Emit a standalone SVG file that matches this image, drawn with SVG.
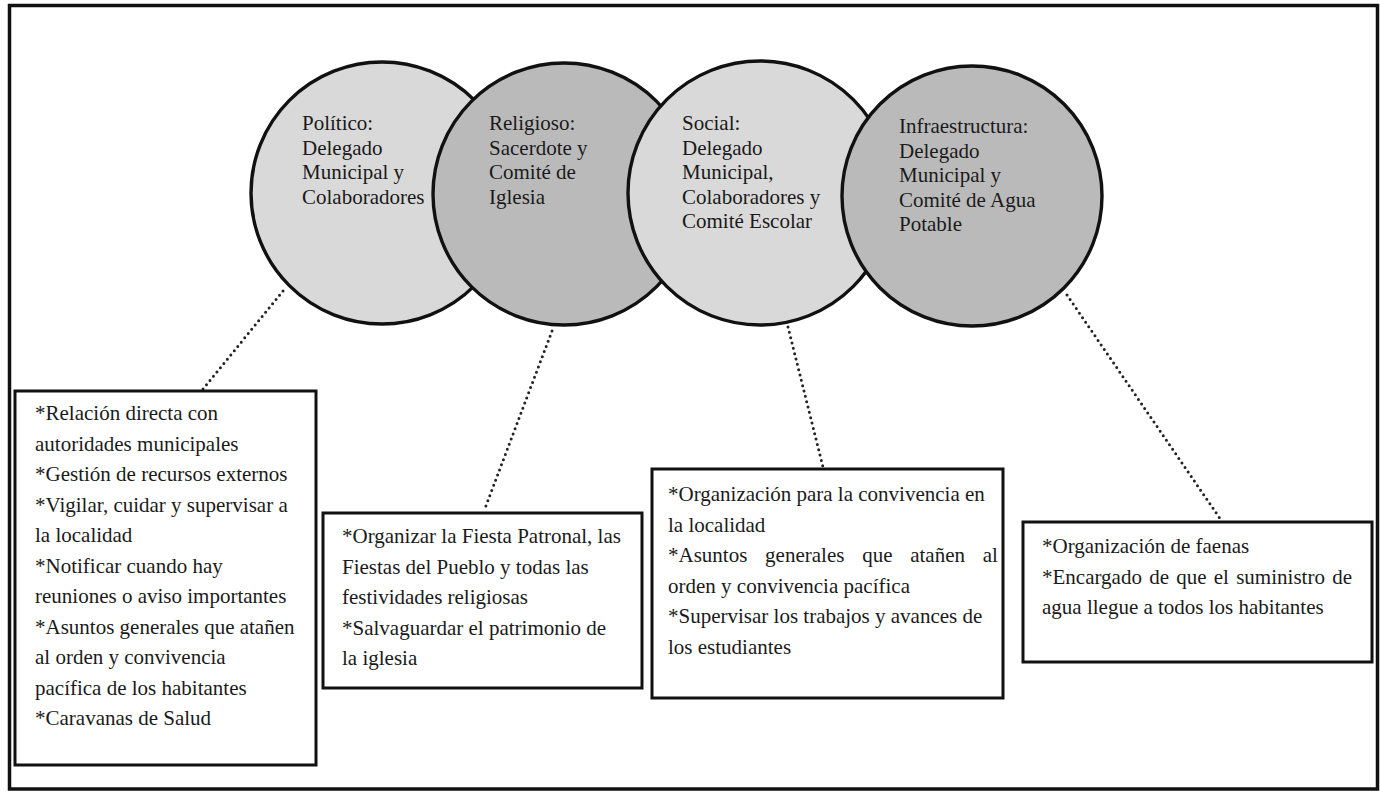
<svg xmlns="http://www.w3.org/2000/svg" width="1380" height="792" viewBox="0 0 1380 792">
<style>
text{font-family:"Liberation Serif","Times New Roman",serif;font-size:21px;fill:#1a1a1a}
.circ{stroke:#111;stroke-width:3.4}
.light{fill:#d9d9d9}
.dark{fill:#bababa}
.box{fill:#fff;stroke:#111;stroke-width:3}
.dot{fill:none;stroke:#222;stroke-width:3;stroke-linecap:round;stroke-dasharray:0 5.5}
</style>
<rect x="0" y="0" width="1380" height="792" fill="#fff"/>
<rect x="9.5" y="5.5" width="1368" height="783.5" fill="none" stroke="#111" stroke-width="3.5"/>
<g id="connectors">
<line class="dot" x1="283" y1="291" x2="203" y2="389"/>
<line class="dot" x1="552" y1="331" x2="484" y2="511"/>
<line class="dot" x1="788" y1="327" x2="823" y2="467"/>
<line class="dot" x1="1067" y1="295" x2="1221" y2="520"/>
</g>
<g id="politico">
<circle class="circ light" cx="382" cy="193" r="131"/>
<text x="302" y="130">Político:</text>
<text x="302" y="154.5">Delegado</text>
<text x="302" y="179">Municipal y</text>
<text x="302" y="203.5">Colaboradores</text>
</g>
<g id="religioso">
<circle class="circ dark" cx="564" cy="194" r="131"/>
<text x="489" y="130">Religioso:</text>
<text x="489" y="154.5">Sacerdote y</text>
<text x="489" y="179">Comité de</text>
<text x="489" y="203.5">Iglesia</text>
</g>
<g id="social">
<circle class="circ light" cx="760" cy="193" r="132"/>
<text x="682" y="130">Social:</text>
<text x="682" y="154.5">Delegado</text>
<text x="682" y="179">Municipal,</text>
<text x="682" y="203.5">Colaboradores y</text>
<text x="682" y="228">Comité Escolar</text>
</g>
<g id="infraestructura">
<circle class="circ dark" cx="972" cy="196" r="130"/>
<text x="899" y="133">Infraestructura:</text>
<text x="899" y="157.5">Delegado</text>
<text x="899" y="182">Municipal y</text>
<text x="899" y="206.5">Comité de Agua</text>
<text x="899" y="231">Potable</text>
</g>
<g id="box-politico">
<rect class="box" x="15" y="391" width="301" height="374"/>
<text x="35" y="420">*Relación directa con</text>
<text x="35" y="450.5">autoridades municipales</text>
<text x="35" y="481">*Gestión de recursos externos</text>
<text x="35" y="511.5">*Vigilar, cuidar y supervisar a</text>
<text x="35" y="542">la localidad</text>
<text x="35" y="572.5">*Notificar cuando hay</text>
<text x="35" y="603">reuniones o aviso importantes</text>
<text x="35" y="633.5">*Asuntos generales que atañen</text>
<text x="35" y="664">al orden y convivencia</text>
<text x="35" y="694.5">pacífica de los habitantes</text>
<text x="35" y="725">*Caravanas de Salud</text>
</g>
<g id="box-religioso">
<rect class="box" x="323" y="513" width="319" height="175"/>
<text x="342" y="543">*Organizar la Fiesta Patronal, las</text>
<text x="342" y="573.5">Fiestas del Pueblo y todas las</text>
<text x="342" y="604">festividades religiosas</text>
<text x="342" y="634.5">*Salvaguardar el patrimonio de</text>
<text x="342" y="665">la iglesia</text>
</g>
<g id="box-social">
<rect class="box" x="652" y="469" width="351" height="229"/>
<text x="668" y="501">*Organización para la convivencia en</text>
<text x="668" y="531.5">la localidad</text>
<text x="668" y="562" word-spacing="12.5">*Asuntos generales que atañen al</text>
<text x="668" y="592.5">orden y convivencia pacífica</text>
<text x="668" y="623">*Supervisar los trabajos y avances de</text>
<text x="668" y="653.5">los estudiantes</text>
</g>
<g id="box-infraestructura">
<rect class="box" x="1023" y="522" width="349" height="140"/>
<text x="1042" y="553">*Organización de faenas</text>
<text x="1042" y="583.5" word-spacing="2">*Encargado de que el suministro de</text>
<text x="1042" y="614">agua llegue a todos los habitantes</text>
</g>
</svg>
